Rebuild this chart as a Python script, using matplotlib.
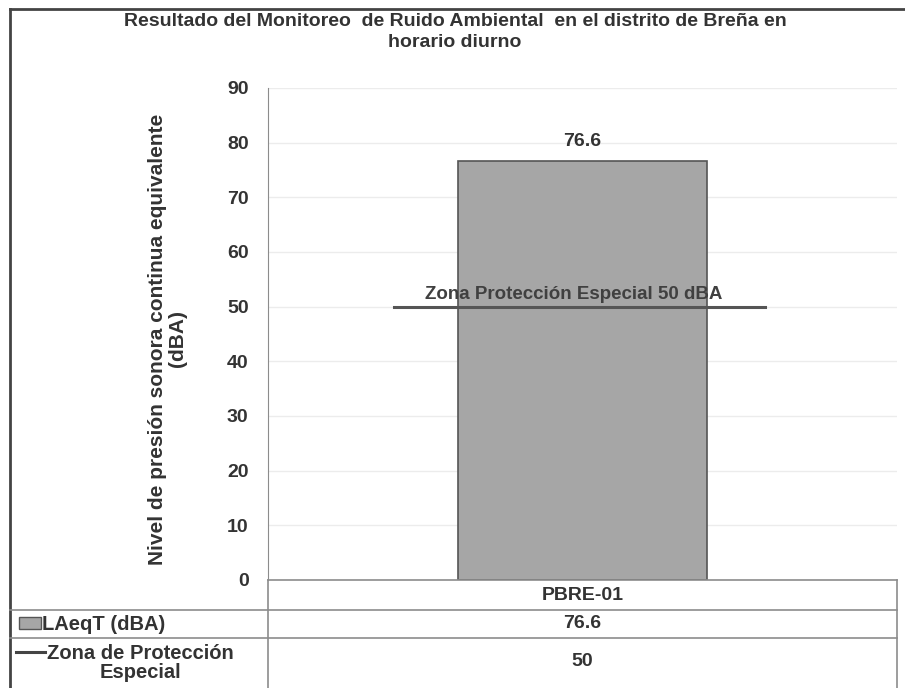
import matplotlib.pyplot as plt
from matplotlib.lines import Line2D
from matplotlib.patches import Rectangle

# data
categories = ['PBRE-01']
laeqt = [76.6]
zona_proteccion = [50]
title = 'Resultado del Monitoreo  de Ruido Ambiental  en el distrito de Breña en\nhorario diurno'
ylabel = 'Nivel de presión sonora continua equivalente\n(dBA)'
zona_text = 'Zona Protección Especial 50 dBA'
row_labels = ['LAeqT (dBA)', 'Zona de Protección\nEspecial']
yticks = list(range(0, 100, 10))

plt.rcParams['font.family'] = ['Liberation Sans', 'DejaVu Sans']
plt.rcParams['font.weight'] = 'bold'

W, H = 905, 688
fig = plt.figure(figsize=(W / 100, H / 100), dpi=100)


def fx(x):
    return x / W


def fy(y):
    return 1 - y / H


def hline(x0, x1, y, color='#8c8c8c', lw=1.2):
    fig.add_artist(Line2D([fx(x0), fx(x1)], [fy(y), fy(y)], color=color, lw=lw))


def vline(x, y0, y1, color='#8c8c8c', lw=1.2):
    fig.add_artist(Line2D([fx(x), fx(x)], [fy(y0), fy(y1)], color=color, lw=lw))


ax_left, ax_right, ax_top, ax_bottom = 268, 897, 88, 580
ax = fig.add_axes([fx(ax_left), fy(ax_bottom), fx(ax_right - ax_left), (ax_bottom - ax_top) / H])

x = list(range(len(categories)))
ax.bar(x, laeqt, width=0.396, color='#a6a6a6', edgecolor='#555555', linewidth=1.2, zorder=2)
for xi, v in zip(x, laeqt):
    ax.annotate(f'{v}', (xi, v), xytext=(0, 8), textcoords='offset points',
                ha='center', va='bottom', fontsize=14, color='#333333', fontweight='bold')

for xi, z in zip(x, zona_proteccion):
    ax.plot([xi - 0.30, xi + 0.29], [z, z], color='#555555', lw=2.2, zorder=3)
    ax.text(xi - 0.25, z + 0.6, zona_text, ha='left', va='bottom', fontsize=13.5,
            color='#404040', fontweight='bold', zorder=4)

ax.set_xlim(-0.5, 0.5)
ax.set_ylim(0, 90)
ax.set_yticks(yticks)
ax.set_yticklabels([str(t) for t in yticks], fontsize=14, fontweight='bold', color='#333333')
ax.tick_params(axis='y', length=0, pad=14)
ax.set_xticks([])
ax.grid(axis='y', color='#ececec', lw=1, zorder=0)
for s in ['top', 'right', 'bottom']:
    ax.spines[s].set_visible(False)
ax.spines['left'].set_color('#8c8c8c')
ax.set_ylabel(ylabel, fontsize=15, fontweight='bold', color='#333333', linespacing=1.1)
ax.yaxis.set_label_coords(-0.128, 0.49)

fig.text(fx(455), fy(32), title, ha='center', va='center', fontsize=14,
         fontweight='bold', color='#333333', linespacing=1.25)

# outer frame
hline(10, 905, 9, color='#444444', lw=2)
vline(10, 9, 688, color='#444444', lw=2)

# data table
rows = [(580, 610), (610, 638), (638, 688)]
hline(ax_left, ax_right, rows[0][0])
hline(10, ax_right, rows[1][0])
hline(10, ax_right, rows[2][0])
vline(ax_left, rows[0][0], 688)
vline(ax_right, rows[0][0], 688)

cx = fx((ax_left + ax_right) / 2)
fig.text(cx, fy(sum(rows[0]) / 2), categories[0], ha='center', va='center', fontsize=14, color='#333333')
fig.text(cx, fy(sum(rows[1]) / 2), f'{laeqt[0]}', ha='center', va='center', fontsize=14, color='#333333')
fig.text(cx, fy(sum(rows[2]) / 2 - 2), f'{zona_proteccion[0]}', ha='center', va='center', fontsize=14, color='#333333')

# legend keys in the table
fig.add_artist(Rectangle((fx(19), fy(629)), fx(22), 12 / H, facecolor='#a6a6a6',
                         edgecolor='#555555', lw=1))
fig.text(fx(42), fy(sum(rows[1]) / 2), row_labels[0], ha='left', va='center', fontsize=14.5, color='#333333')
fig.add_artist(Line2D([fx(16), fx(45)], [fy(652), fy(652)], color='#444444', lw=2.2))
fig.text(fx(140), fy(sum(rows[2]) / 2), row_labels[1], ha='center', va='center', fontsize=14.5,
         color='#333333', linespacing=1.05)

fig.savefig('out.png', dpi=100)
